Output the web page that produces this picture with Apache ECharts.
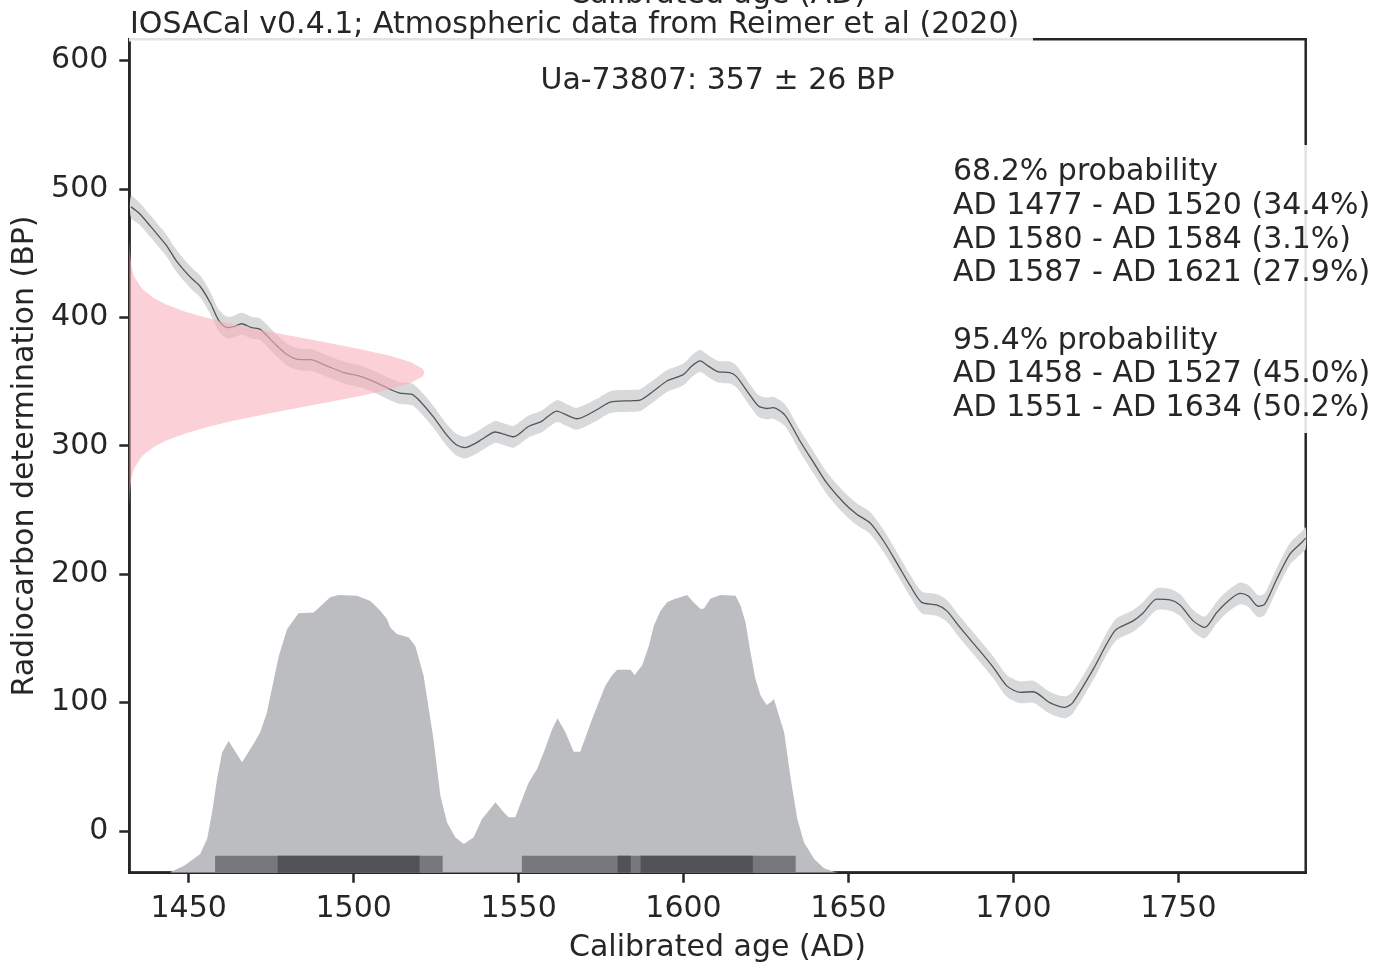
<!DOCTYPE html>
<html>
<head>
<meta charset="utf-8">
<title>Ua-73807 calibration</title>
<script src="https://cdn.jsdelivr.net/npm/echarts@6/dist/echarts.min.js"></script>
<style>
  html, body { margin: 0; padding: 0; background: #fff; }
  #chart { width: 1390px; height: 966px; }
</style>
</head>
<body>
<div id="chart"></div>
<script>
// axis extents
var X_MIN = 1432, X_MAX = 1788.6
var Y_MIN = -32.5, Y_MAX = 616.5
var xTicks = [1450, 1500, 1550, 1600, 1650, 1700, 1750]
var yTicks = [0, 100, 200, 300, 400, 500, 600]

// IntCal20 calibration curve (cal AD -> BP), band half width
var curveYear = [1432.5, 1435, 1438.4, 1441, 1443.4, 1446, 1448.5, 1451, 1453.5, 1456.5, 1459, 1461.6, 1464, 1466, 1469, 1471.7, 1475.7, 1479.8, 1483.8, 1486.8, 1492, 1497, 1502, 1507, 1511, 1514, 1517.7, 1520, 1524, 1528, 1531, 1533.8, 1537, 1538.9, 1542.9, 1545.5, 1548.5, 1553, 1557, 1561.6, 1564.5, 1567.7, 1573.7, 1577.8, 1583.8, 1586.8, 1590.9, 1595, 1600, 1602.5, 1605, 1607.5, 1610.6, 1614, 1616, 1619.7, 1622.7, 1625.2, 1627.2, 1630.8, 1635.3, 1639.4, 1643.4, 1648.5, 1652.5, 1656.5, 1660.6, 1664.6, 1668.7, 1672.2, 1676.7, 1679.8, 1683.8, 1688.9, 1693.9, 1698, 1702, 1706, 1711, 1715.6, 1718, 1724.2, 1730.8, 1736.3, 1739.4, 1743.4, 1747.5, 1750.5, 1754.5, 1758, 1761.6, 1764.6, 1768.7, 1771.2, 1774.2, 1776.2, 1779.8, 1783.8, 1787.4, 1788.6]
var curveBP = [486, 481, 471, 463, 455.5, 445, 437, 430, 424, 411.5, 398, 392, 393, 395, 392, 390.6, 380.5, 371, 367, 367, 362, 357, 354, 349, 344, 341, 340, 335, 323, 309, 301, 298.5, 302, 305, 310.7, 309, 307, 315, 319, 327, 324, 321, 328, 334, 335, 335.5, 342.6, 350.4, 355.6, 362, 366, 362, 357.5, 357, 354, 341, 331, 329, 329.6, 323.7, 303.7, 287, 271, 255.8, 246.7, 240, 226, 209, 191, 178, 176, 171.4, 158.5, 143, 127.4, 113, 108, 108.4, 100, 96.3, 100, 126, 156, 163.6, 170, 180.5, 180, 176, 163.6, 158.5, 170, 178, 185, 183, 175, 176.7, 196, 215.6, 224.7, 228]
var curveSigma = 8.5

// radiocarbon date drawn on the y axis: BP value, width in years
var dateBP    = [461, 450, 440, 432, 422, 415, 410, 405, 400, 395, 390, 385, 380, 375, 370, 365, 360, 357, 354, 349, 344, 339, 334, 329, 324, 319, 314, 309, 304, 299, 292, 282, 274, 264, 253]
var dateWidth = [0, 0.2, 0.6, 1.4, 3.9, 7.4, 11.2, 16.3, 22.8, 30.8, 40, 50.1, 60.5, 70.4, 79, 85.4, 88.9, 89.5, 88.9, 85.4, 79, 70.4, 60.5, 50.1, 40, 30.8, 22.8, 16.3, 11.2, 7.4, 3.9, 1.4, 0.6, 0.2, 0]

// calibrated probability (top edge, in axis units)
var calYear = [1444.5, 1448.6, 1453.5, 1455.6, 1457.1, 1458.6, 1460.1, 1462.1, 1466.2, 1470.2, 1471.7, 1473.7, 1475.8, 1477.3, 1479.8, 1483.3, 1487.9, 1492.9, 1495.5, 1501, 1505.1, 1508.1, 1510.1, 1511.1, 1513.1, 1516.7, 1518.7, 1521.2, 1524.2, 1526.3, 1528.3, 1530.8, 1533.4, 1536.4, 1538.9, 1541.4, 1543, 1545.5, 1547, 1549, 1551.1, 1553.1, 1555.6, 1557.6, 1560.2, 1561.8, 1564.2, 1566.7, 1568.7, 1570.3, 1572.3, 1574.3, 1576.3, 1578.4, 1579.9, 1583.9, 1585.2, 1587.5, 1589.5, 1591, 1593, 1595.1, 1597.1, 1601.1, 1603.1, 1605.2, 1606.2, 1608.2, 1611.2, 1615.8, 1617.3, 1618.8, 1620.3, 1621.8, 1623.4, 1625.2, 1626.4, 1627.4, 1630.5, 1632.5, 1634.5, 1636.5, 1639.6, 1642.6, 1645.6, 1647]
var calProb = [-32, -27, -18, -6, 14.5, 40.5, 61, 70, 53.5, 70, 77, 92, 118, 136, 157, 169.6, 170.2, 182, 183.7, 183.1, 179, 171.4, 165, 158.5, 153.3, 150.7, 144, 121, 71.6, 27.5, 6.8, -4.9, -10.1, -4.9, 9.3, 17.1, 22.3, 14.5, 10.7, 10.7, 24.9, 37.9, 48.2, 61.2, 79.4, 87.7, 76.8, 61.7, 61.7, 72.9, 87.2, 100.2, 113.1, 121.4, 125.5, 125.5, 121.4, 129.2, 144.2, 159.8, 171.4, 178.4, 180.5, 183.7, 178, 172.8, 173.3, 181.1, 183.7, 183.1, 175.3, 162.4, 139.1, 118.3, 105.3, 98, 100.2, 102.7, 76.8, 40.5, 9.3, -8.8, -21.8, -29, -31.7, -32]

// HPD ranges
var ranges95 = [[1458, 1527], [1551, 1634]]
var ranges68 = [[1477, 1520], [1580, 1584], [1587, 1621]]
var BAR_TOP = -19.3

var legendLines = [
  '68.2% probability',
  'AD 1477 - AD 1520 (34.4%)',
  'AD 1580 - AD 1584 (3.1%)',
  'AD 1587 - AD 1621 (27.9%)',
  '',
  '95.4% probability',
  'AD 1458 - AD 1527 (45.0%)',
  'AD 1551 - AD 1634 (50.2%)'
]

var INK = '#262626'
var FONT = '"DejaVu Sans", sans-serif'

function zip(a, b) {
  var out = []
  for (var i = 0; i < a.length; i++) out.push([a[i], b[i]])
  return out
}

var chart = echarts.init(document.getElementById('chart'))

function polygonSeries(name, getPoints, fill, z, smooth) {
  return {
    name: name,
    type: 'custom',
    data: [[X_MIN, Y_MIN]],
    z: z,
    silent: true,
    renderItem: function (params, api) {
      var pts = getPoints().map(function (p) { return api.coord(p) })
      return {
        type: 'polygon',
        shape: { points: pts, smooth: smooth || 0 },
        style: { fill: fill }
      }
    }
  }
}

function bandPoints() {
  var pts = []
  for (var i = 0; i < curveYear.length; i++) pts.push([curveYear[i], curveBP[i] + curveSigma])
  for (var j = curveYear.length - 1; j >= 0; j--) pts.push([curveYear[j], curveBP[j] - curveSigma])
  return pts
}

function datePoints() {
  var pts = [[X_MIN, dateBP[0]]]
  for (var i = 0; i < dateBP.length; i++) pts.push([X_MIN + dateWidth[i], dateBP[i]])
  pts.push([X_MIN, dateBP[dateBP.length - 1]])
  return pts
}

function barsSeries(name, ranges, color, z) {
  return {
    name: name,
    type: 'custom',
    z: z,
    silent: true,
    encode: { x: [0, 1] },
    data: ranges,
    renderItem: function (params, api) {
      var p0 = api.coord([api.value(0), BAR_TOP])
      var p1 = api.coord([api.value(1), Y_MIN])
      return {
        type: 'rect',
        shape: { x: p0[0], y: p0[1], width: p1[0] - p0[0], height: p1[1] - p0[1] },
        style: { fill: color }
      }
    }
  }
}

var option = {
  animation: false,
  backgroundColor: '#fff',
  textStyle: { fontFamily: FONT, color: INK },
  grid: {
    left: 129.3, right: 84.3, top: 39.3, bottom: 93.3,
    containLabel: false, outerBoundsMode: 'none',
    show: true, borderColor: INK, borderWidth: 2.5
  },
  xAxis: {
    type: 'value', min: X_MIN, max: X_MAX,
    name: 'Calibrated age (AD)', nameLocation: 'middle', nameGap: 61,
    nameTextStyle: { fontSize: 30, color: INK, fontFamily: FONT },
    axisLine: { show: true, onZero: false, lineStyle: { color: INK, width: 2.5 } },
    axisTick: { show: true, customValues: xTicks, length: 10, lineStyle: { color: INK, width: 2.5 } },
    axisLabel: {
      customValues: xTicks, fontSize: 30, color: INK, margin: 22, fontFamily: FONT,
      formatter: function (v) { return String(v) }
    },
    splitLine: { show: false }
  },
  yAxis: {
    type: 'value', min: Y_MIN, max: Y_MAX,
    name: 'Radiocarbon determination (BP)', nameLocation: 'middle', nameGap: 84,
    nameTextStyle: { fontSize: 30, color: INK, fontFamily: FONT },
    axisLine: { show: true, onZero: false, lineStyle: { color: INK, width: 2.5 } },
    axisTick: { show: true, customValues: yTicks, length: 10, lineStyle: { color: INK, width: 2.5 } },
    axisLabel: {
      customValues: yTicks, fontSize: 30, color: INK, margin: 21, fontFamily: FONT,
      formatter: function (v) { return String(v) }
    },
    splitLine: { show: false }
  },
  series: [
    {
      name: 'calibrated',
      type: 'line',
      data: zip(calYear, calProb),
      showSymbol: false,
      symbol: 'none',
      z: 2,
      lineStyle: { width: 0, color: '#bcbdc1' },
      areaStyle: { color: '#bcbdc1', opacity: 1, origin: 'start' }
    },
    barsSeries('95.4%', ranges95, '#77787c', 3),
    barsSeries('68.2%', ranges68, '#515255', 4),
    polygonSeries('curve band', bandPoints, '#d8d9db', 5, 0.25),
    {
      name: 'curve',
      type: 'line',
      data: zip(curveYear, curveBP),
      showSymbol: false,
      symbol: 'none',
      smooth: 0.25,
      z: 6,
      lineStyle: { width: 1.3, color: '#555555' }
    },
    polygonSeries('date', datePoints, 'rgba(248,176,186,0.6)', 7, 0)
  ],
  graphic: [
    {
      type: 'rect', z: 100,
      shape: { x: 129, y: 0, width: 904, height: 41.5 },
      style: { fill: 'rgba(255,255,255,0.87)' }
    },
    {
      type: 'text', x: 717.5, y: -5, z: 102,
      style: { text: 'Calibrated age (AD)', font: '30px ' + FONT, fill: INK, textAlign: 'center', textVerticalAlign: 'middle' }
    },
    {
      type: 'text', x: 130, y: 25, z: 101,
      style: { text: 'IOSACal v0.4.1; Atmospheric data from Reimer et al (2020)', font: '30px ' + FONT, fill: INK, textAlign: 'left', textVerticalAlign: 'middle' }
    },
    {
      type: 'text', x: 717.5, y: 81, z: 101,
      style: { text: 'Ua-73807: 357 \u00b1 26 BP', font: '30px ' + FONT, fill: INK, textAlign: 'center', textVerticalAlign: 'middle' }
    },
    {
      type: 'rect', z: 100,
      shape: { x: 940, y: 145, width: 460, height: 288 },
      style: { fill: 'rgba(255,255,255,0.87)' }
    },
    {
      type: 'text', x: 953, y: 155.6, z: 101,
      style: { text: legendLines.join('\n'), font: '30px ' + FONT, lineHeight: 33.7, fill: INK, textAlign: 'left', textVerticalAlign: 'top' }
    }
  ]
}

chart.setOption(option)
window.addEventListener('resize', function () { chart.resize() })
</script>
</body>
</html>
